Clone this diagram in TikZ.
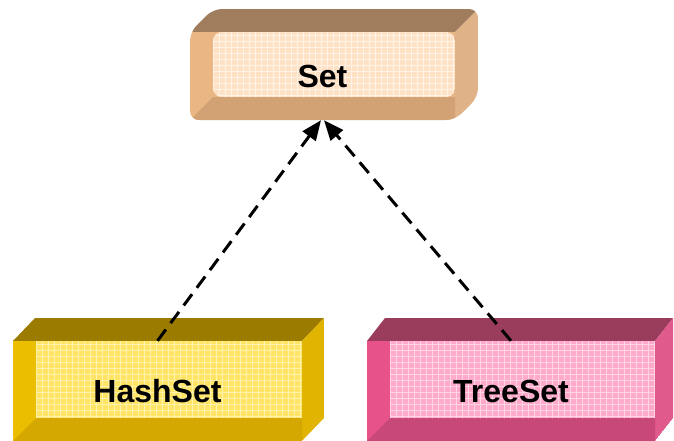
\documentclass[tikz,border=0pt]{standalone}
\usepackage{fontspec}
\setmainfont{Liberation Sans}
\usetikzlibrary{arrows.meta}
% colours
\definecolor{htop}{HTML}{9C7C00}
\definecolor{hright}{HTML}{E0B400}
\definecolor{hleft}{HTML}{ECBE00}
\definecolor{hinner}{HTML}{FFE466}
\definecolor{hgrid}{HTML}{FFF2AA}
\definecolor{hbottom}{HTML}{D4A800}
\definecolor{ttop}{HTML}{9A3C5C}
\definecolor{tright}{HTML}{E05A8C}
\definecolor{tleft}{HTML}{E8528A}
\definecolor{tinner}{HTML}{FFAACB}
\definecolor{tgrid}{HTML}{FFD4E4}
\definecolor{tbottom}{HTML}{C9487A}
\definecolor{stop}{HTML}{A07D5D}
\definecolor{sright}{HTML}{DFB287}
\definecolor{sleft}{HTML}{E9B684}
\definecolor{sinner}{HTML}{FFE2C6}
\definecolor{sgrid}{HTML}{FFF2E6}
\definecolor{sbottom}{HTML}{D2A274}
% #1 left, #2 right, #3 top, #4 bottom, #5 dx, #6 dy, #7 bevel, #8 prefix, #9 radius
\newcommand\solidbox[9]{%
  \begin{scope}
    \clip[rounded corners=#9] (#1,#3) -- (#1+#5,#3-#6) -- (#2+#5,#3-#6)
      -- (#2+#5,#4-#6) -- (#2,#4) -- (#1,#4) -- cycle;
    \fill[#8top] (#1,#3) -- (#1+#5,#3-#6) -- (#2+#5,#3-#6) -- (#2,#3) -- cycle;
    \fill[#8right] (#2,#3) -- (#2+#5,#3-#6) -- (#2+#5,#4-#6) -- (#2,#4) -- cycle;
    \fill[#8left] (#1,#3) rectangle (#2,#4);
    \fill[#8bottom] (#1,#4) -- (#1+#7,#4-#7) -- (#2,#4-#7) -- (#2,#4) -- cycle;
    \begin{scope}
      \clip[rounded corners=#9] (#1+#7,#3) rectangle (#2,#4-#7);
      \fill[#8inner] (#1+#7,#3) rectangle (#2,#4-#7);
      \foreach \gx in {0,6,...,300} \draw[#8grid, line width=0.9pt] (#1+#7+\gx,#3) -- (#1+#7+\gx,#4);
      \foreach \gy in {3,9,...,120} \draw[#8grid, line width=0.9pt] (#1,#3+\gy) -- (#2,#3+\gy);
    \end{scope}
  \end{scope}}
\tikzset{
  boxlabel/.style={font=\bfseries\fontsize{32}{38}\selectfont, inner sep=0pt, text=black},
  dep/.style={line width=3pt, dash pattern=on 14pt off 8pt,
    -{Triangle[length=20pt,width=16pt]}}
}
\begin{document}
\begin{tikzpicture}[x=1pt,y=-1pt]
  \useasboundingbox (0,0) rectangle (674,440);
  \solidbox{190}{455}{32}{120}{23}{23}{23}{s}{9}
  \solidbox{13}{302}{341}{441}{22}{23}{23}{h}{0.1}
  \solidbox{367}{655}{341}{441}{18}{23}{23}{t}{0.1}
  \node[boxlabel, minimum width=265pt, minimum height=88pt] (set) at (322.5,76) {Set};
  \node[boxlabel, minimum width=289pt, minimum height=100pt] (hash) at (157.5,391) {HashSet};
  \node[boxlabel, minimum width=288pt, minimum height=100pt] (tree) at (511,391) {TreeSet};
  \draw[dep] (hash.north) -- ([xshift=-1.5pt]set.south);
  \draw[dep] (tree.north) -- ([xshift=1.5pt]set.south);
\end{tikzpicture}
\end{document}
